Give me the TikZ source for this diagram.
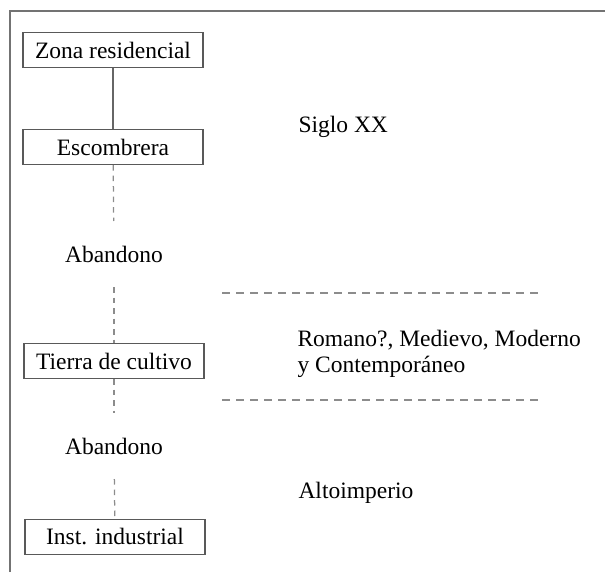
\documentclass[tikz,border=0pt]{standalone}
\usepackage{fontspec}
\setmainfont{Liberation Serif}

\begin{document}
\begin{tikzpicture}[x=0.4pt, y=-0.4pt, font=\fontsize{9.4}{10.6}\selectfont,
    stage/.style={draw=black!65, line width=0.5pt, minimum width=72pt, minimum height=14pt, inner sep=2pt},
    pause/.style={minimum height=26pt, inner sep=0pt},
    period/.style={anchor=west, align=left, inner sep=0pt},
    link/.style={draw=black!60, line width=0.5pt},
    cut/.style={draw=black!45, line width=0.5pt, dash pattern=on 2.2pt off 2pt},
    split/.style={draw=black!45, line width=0.5pt, dash pattern=on 3pt off 2.6pt}]

        % Frame
        \useasboundingbox (0,0) rectangle (605,572);
        \draw[black!55, line width=0.7pt] (10,572) -- (10,11) -- (605,11);

        % Sequence (top = latest)
        \node[stage] (zona) at (113,50) {Zona residencial};
        \node[stage] (escombrera) at (113,147) {Escombrera};
        \node[pause] (aband1) at (114,254) {Abandono};
        \node[stage] (tierra) at (114,361) {Tierra de cultivo};
        \node[pause] (aband2) at (114,446) {Abandono};
        \node[stage] (inst) at (115,537) {Inst. industrial};

        % Links
        \draw[link] (zona) -- (escombrera);
        \draw[cut] (escombrera) -- (aband1);
        \draw[cut] (aband1) -- (tierra);
        \draw[cut] (tierra) -- (aband2);
        \draw[cut] (aband2) -- (inst);

        % Periods
        \node[period] (siglo) at (298,127) {Siglo XX};
        \node[period] (romano) at (297,354) {Romano?, Medievo, Moderno\\y Contemporáneo};
        \node[period] (alto) at (298,493) {Altoimperio};

        % Period limits
        \coordinate (lim1a) at (222,293);
        \coordinate (lim1b) at (543,293);
        \coordinate (lim2a) at (222,400);
        \coordinate (lim2b) at (543,400);
        \draw[split] (lim1a) -- (lim1b);
        \draw[split] (lim2a) -- (lim2b);

    \end{tikzpicture}
\end{document}
